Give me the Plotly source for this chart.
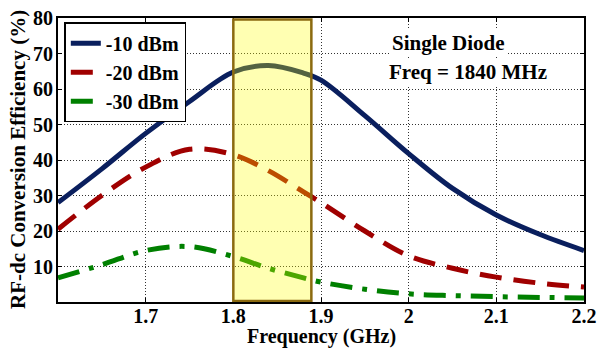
import plotly.graph_objects as go

freq = [1.60, 1.65, 1.70, 1.75, 1.80, 1.84, 1.88, 1.90, 1.95, 2.00, 2.05, 2.10, 2.15, 2.20]
eff_m10 = [28.0, 37.5, 47.5, 56.5, 64.8, 66.6, 64.5, 62.5, 52.5, 41.8, 32.0, 24.5, 19.0, 14.5]
eff_m20 = [20.5, 30.0, 38.0, 43.0, 41.5, 37.0, 31.0, 28.0, 20.0, 13.0, 9.5, 7.0, 5.3, 4.2]
eff_m30 = [6.8, 10.5, 14.5, 15.6, 12.8, 9.5, 6.8, 5.6, 3.6, 2.3, 1.8, 1.5, 1.3, 1.1]
band = [1.8, 1.889]
series_names = ["-10 dBm", "-20 dBm", "-30 dBm"]
xticks = [1.7, 1.8, 1.9, 2.0, 2.1, 2.2]
xticklabels = ["1.7", "1.8", "1.9", "2", "2.1", "2.2"]
yticks = [10, 20, 30, 40, 50, 60, 70, 80]
x_title = "Frequency (GHz)"
y_title = "RF-dc Conversion Efficiency (%)"

FONT = "Liberation Serif"

fig = go.Figure()
fig.add_trace(go.Scatter(x=freq, y=eff_m10, name="<b>%s</b>" % series_names[0], mode="lines",
                         line=dict(color="#0a1f5e", width=5, shape="spline")))
fig.add_trace(go.Scatter(x=freq, y=eff_m20, name="<b>%s</b>" % series_names[1], mode="lines",
                         line=dict(color="#a00000", width=5, shape="spline", dash="22px,12px")))
fig.add_trace(go.Scatter(x=freq, y=eff_m30, name="<b>%s</b>" % series_names[2], mode="lines",
                         line=dict(color="#008000", width=5, shape="spline", dash="22px,10px,5px,10px")))

fig.add_shape(type="rect", xref="x", yref="y", x0=band[0], x1=band[1], y0=0.3, y1=79.6,
              line=dict(color="#8b6a10", width=2.5), fillcolor="rgba(255,255,0,0.3)", layer="above")

fig.add_annotation(x=2.045, y=73.1, xref="x", yref="y", text="<b>Single Diode</b>", showarrow=False,
                   font=dict(family=FONT, size=21, color="black"), bgcolor="white")
fig.add_annotation(x=2.068, y=64.9, xref="x", yref="y", text="<b>Freq = 1840 MHz</b>", showarrow=False,
                   font=dict(family=FONT, size=21, color="black"), bgcolor="white")

# axis titles
fig.add_annotation(x=0.5, y=-0.122, xref="paper", yref="paper", text="<b>%s</b>" % x_title,
                   showarrow=False, xanchor="center", yanchor="middle",
                   font=dict(family=FONT, size=20, color="black"))
fig.add_annotation(x=-0.076, y=0.5, xref="paper", yref="paper", text="<b>%s</b>" % y_title,
                   showarrow=False, xanchor="center", yanchor="middle", textangle=-90,
                   font=dict(family=FONT, size=21, color="black"))

axis_common = dict(showline=True, linecolor="black", linewidth=2, mirror="ticks",
                   ticks="inside", ticklen=4, tickcolor="black", tickwidth=1,
                   showgrid=True, gridcolor="#333", griddash="1px,2px", gridwidth=1,
                   zeroline=False, automargin=False,
                   tickfont=dict(family=FONT, size=20, color="black"))

fig.update_xaxes(range=[1.6, 2.2], tickvals=xticks, ticktext=["<b>%s</b>" % t for t in xticklabels],
                 ticklabelstandoff=-5, **axis_common)
fig.update_yaxes(range=[0, 80], tickvals=yticks, ticktext=["<b>%d</b>" % t for t in yticks],
                 ticklabelstandoff=-1, **axis_common)

fig.update_layout(width=598, height=349, margin=dict(l=58, r=14, t=18, b=47),
                  plot_bgcolor="white", paper_bgcolor="white",
                  font=dict(family=FONT, color="black"),
                  legend=dict(x=0.012, y=0.985, xanchor="left", yanchor="top",
                              bgcolor="white", bordercolor="black", borderwidth=1.5,
                              font=dict(family=FONT, size=20, color="black"),
                              tracegroupgap=0, itemwidth=30),
                  showlegend=True)

fig.write_html("out.html")
